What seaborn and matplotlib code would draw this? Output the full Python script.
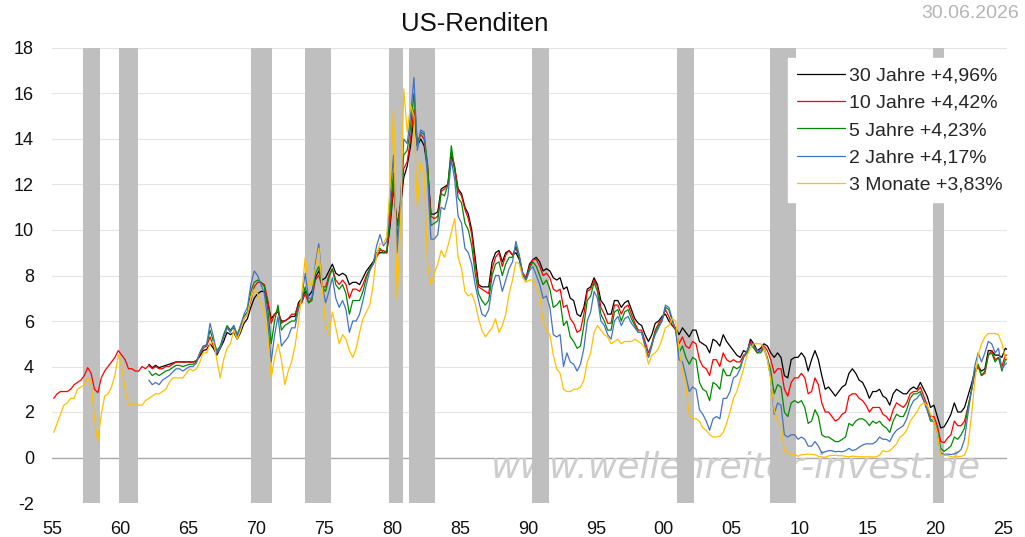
import numpy as np
import pandas as pd
import matplotlib
matplotlib.use("Agg")
import matplotlib.pyplot as plt
from matplotlib.lines import Line2D
import seaborn as sns

# ---------------- data (quarterly readings) ----------------
START_LONG = 1955   # 10 Jahre and 3 Monate start here
START_SHORT = 1962  # 30 / 5 / 2 Jahre start here

y10 = [
    2.6, 2.8, 2.9, 2.9,   # 1955
    2.9, 3.0, 3.2, 3.3,
    3.4, 3.6, 3.95, 3.7,
    3.0, 2.85, 3.5, 3.8,
    4.0, 4.2, 4.4, 4.7,
    4.5, 4.3, 3.9, 3.9,   # 1960
    3.8, 3.8, 4.0, 3.9,
    4.05, 3.9, 4.0, 3.9,
    3.9, 4.0, 4.0, 4.1,
    4.2, 4.2, 4.2, 4.2,
    4.2, 4.2, 4.25, 4.5,  # 1965
    4.8, 4.9, 5.3, 4.9,
    4.6, 4.8, 5.3, 5.7,
    5.6, 5.7, 5.3, 5.7,
    6.1, 6.3, 6.9, 7.5,
    7.7, 7.7, 7.6, 6.9,   # 1970
    5.9, 6.3, 6.5, 5.9,
    6.0, 6.1, 6.3, 6.3,
    6.7, 6.8, 7.2, 6.8,
    7.0, 7.8, 8.0, 7.5,
    7.5, 8.0, 8.3, 7.8,   # 1975
    7.6, 7.8, 7.6, 7.0,
    7.4, 7.4, 7.3, 7.6,
    8.0, 8.3, 8.5, 8.8,
    9.1, 9.1, 9.0, 10.4,
    12.0, 10.2, 10.9, 12.7,  # 1980
    13.0, 14.0, 15.3, 13.8,
    14.2, 14.0, 12.8, 10.6,
    10.5, 10.6, 11.7, 11.8,
    12.0, 13.4, 12.8, 11.7,
    11.5, 10.9, 10.5, 9.8,   # 1985
    8.5, 7.5, 7.4, 7.3,
    7.2, 8.3, 8.8, 9.0,
    8.4, 8.9, 9.1, 8.9,
    9.2, 8.8, 8.1, 7.9,
    8.4, 8.7, 8.7, 8.4,   # 1990
    8.0, 8.1, 7.9, 7.4,
    7.3, 7.4, 6.6, 6.7,
    6.1, 5.9, 5.5, 5.6,
    6.3, 7.3, 7.4, 7.8,
    7.5, 6.6, 6.3, 5.9,   # 1995
    5.9, 6.7, 6.7, 6.3,
    6.6, 6.7, 6.3, 5.9,
    5.6, 5.6, 5.1, 4.6,
    5.0, 5.6, 5.9, 6.1,
    6.5, 6.2, 5.8, 5.6,   # 2000
    5.0, 5.3, 4.9, 4.8,
    5.1, 5.0, 4.3, 4.0,
    3.9, 3.6, 4.3, 4.3,
    4.0, 4.6, 4.3, 4.2,
    4.3, 4.2, 4.2, 4.5,   # 2005
    4.6, 5.1, 4.9, 4.6,
    4.7, 4.9, 4.7, 4.3,
    3.7, 3.9, 3.9, 3.0,
    2.7, 3.3, 3.5, 3.5,
    3.7, 3.5, 2.8, 2.9,   # 2010
    3.5, 3.2, 2.4, 2.0,
    2.0, 1.8, 1.6, 1.7,
    1.9, 2.0, 2.7, 2.8,
    2.8, 2.6, 2.5, 2.3,
    2.0, 2.2, 2.2, 2.2,   # 2015
    1.9, 1.8, 1.6, 2.1,
    2.4, 2.3, 2.2, 2.4,
    2.8, 2.9, 2.9, 3.1,
    2.7, 2.3, 1.8, 1.8,
    1.4, 0.7, 0.65, 0.85,  # 2020
    1.0, 1.6, 1.4, 1.4,
    1.6, 2.2, 2.9, 3.7,
    4.0, 3.6, 3.7, 4.5,
    4.7, 4.3, 4.4, 4.0,
    4.5, 4.5,             # 2025
]

m3 = [
    1.1, 1.5, 1.9, 2.3,   # 1955
    2.4, 2.6, 2.6, 3.0,
    3.1, 3.2, 3.5, 3.3,
    1.7, 0.7, 1.9, 2.7,
    2.8, 3.1, 3.6, 4.5,
    4.0, 3.0, 2.3, 2.3,   # 1960
    2.4, 2.3, 2.3, 2.5,
    2.6, 2.7, 2.8, 2.8,
    2.9, 3.0, 3.3, 3.5,
    3.5, 3.5, 3.5, 3.7,
    3.9, 3.8, 3.9, 4.2,   # 1965
    4.6, 4.6, 5.0, 5.1,
    4.3, 3.5, 4.3, 4.8,
    5.0, 5.6, 5.2, 5.6,
    6.1, 6.3, 7.0, 7.4,
    7.2, 6.7, 6.4, 5.3,   # 1970
    3.5, 4.4, 5.0, 4.3,
    3.2, 3.8, 4.2, 4.9,
    5.9, 7.2, 8.8, 7.6,
    7.6, 8.3, 9.2, 7.5,
    5.8, 5.4, 6.4, 5.7,   # 1975
    5.0, 5.4, 5.2, 4.7,
    4.4, 4.8, 5.5, 6.1,
    6.4, 6.7, 7.6, 8.9,
    9.4, 9.4, 9.7, 12.0,
    15.3, 7.0, 9.8, 16.2,  # 1980
    14.3, 15.5, 15.0, 11.0,
    13.0, 12.5, 8.5, 7.6,
    8.1, 8.5, 9.1, 8.8,
    9.3, 9.9, 10.5, 8.8,
    8.3, 7.3, 7.1, 7.2,   # 1985
    6.8, 6.1, 5.6, 5.3,
    5.5, 5.7, 6.1, 5.5,
    5.8, 6.3, 7.2, 7.8,
    8.6, 8.5, 7.9, 7.7,
    7.8, 7.8, 7.5, 7.1,   # 1990
    6.0, 5.6, 5.4, 4.5,
    3.9, 3.7, 3.0, 2.9,
    2.9, 3.0, 3.0, 3.1,
    3.4, 4.2, 4.6, 5.5,
    5.8, 5.6, 5.4, 5.3,   # 1995
    5.0, 5.1, 5.2, 5.0,
    5.1, 5.1, 5.1, 5.2,
    5.1, 5.0, 4.8, 4.1,
    4.5, 4.6, 4.8, 5.2,
    5.7, 5.8, 6.1, 6.0,   # 2000
    4.8, 3.8, 3.2, 1.9,
    1.7, 1.7, 1.6, 1.3,
    1.2, 1.0, 0.9, 0.9,
    0.93, 1.1, 1.5, 2.0,
    2.6, 2.9, 3.4, 3.9,   # 2005
    4.5, 4.8, 5.0, 5.0,
    5.0, 4.8, 4.3, 3.4,
    2.1, 1.6, 1.5, 0.3,
    0.2, 0.15, 0.15, 0.05,
    0.12, 0.13, 0.15, 0.14,  # 2010
    0.12, 0.05, 0.02, 0.01,
    0.07, 0.09, 0.1, 0.08,
    0.08, 0.05, 0.03, 0.06,
    0.05, 0.03, 0.03, 0.03,
    0.03, 0.02, 0.03, 0.1,   # 2015
    0.3, 0.25, 0.3, 0.45,
    0.6, 0.9, 1.0, 1.2,
    1.6, 1.8, 2.0, 2.3,
    2.4, 2.3, 1.9, 1.6,
    1.1, 0.1, 0.1, 0.09,     # 2020
    0.04, 0.02, 0.04, 0.05,
    0.1, 0.5, 1.8, 3.3,
    4.5, 5.0, 5.3, 5.45,
    5.45, 5.45, 5.4, 5.0,
    4.4, 4.3,                # 2025
]

y30 = [
    4.1, 3.95, 4.05, 3.95,   # 1962
    4.0, 4.05, 4.1, 4.15,
    4.2, 4.2, 4.2, 4.2,
    4.2, 4.2, 4.25, 4.45,    # 1965
    4.7, 4.75, 5.0, 4.8,
    4.5, 4.8, 5.1, 5.5,
    5.4, 5.5, 5.2, 5.5,
    5.9, 6.1, 6.6, 7.0,
    7.2, 7.3, 7.3, 6.8,      # 1970
    6.1, 6.3, 6.4, 6.0,
    6.0, 6.1, 6.2, 6.2,
    6.8, 7.0, 7.3, 7.1,
    7.3, 7.9, 8.2, 7.8,
    7.9, 8.2, 8.5, 8.1,      # 1975
    8.0, 8.1, 8.0, 7.6,
    7.7, 7.7, 7.6, 7.9,
    8.2, 8.4, 8.6, 8.9,
    9.0, 9.0, 9.0, 10.2,
    11.9, 10.2, 11.0, 12.3,  # 1980
    12.8, 13.7, 15.0, 13.7,
    14.0, 13.7, 12.7, 10.7,
    10.7, 10.8, 11.8, 11.9,
    12.0, 13.3, 12.7, 11.8,
    11.6, 11.0, 10.7, 10.0,  # 1985
    8.8, 7.6, 7.5, 7.5,
    7.5, 8.6, 9.0, 9.1,
    8.6, 9.0, 9.1, 8.9,
    9.0, 8.7, 8.1, 7.9,
    8.5, 8.7, 8.8, 8.6,      # 1990
    8.2, 8.3, 8.2, 7.9,
    7.8, 7.9, 7.4, 7.5,
    7.0, 6.9, 6.3, 6.2,
    6.6, 7.4, 7.5, 7.9,
    7.6, 6.9, 6.7, 6.3,      # 1995
    6.3, 6.9, 6.9, 6.6,
    6.8, 6.9, 6.5, 6.1,
    5.9, 5.8, 5.4, 5.1,
    5.4, 5.9, 6.0, 6.2,
    6.3, 6.0, 5.8, 5.7,      # 2000
    5.4, 5.7, 5.5, 5.3,
    5.6, 5.6, 5.1, 5.0,
    4.9, 4.6, 5.2, 5.1,
    4.9, 5.4, 5.1, 4.9,
    4.7, 4.5, 4.4, 4.7,      # 2005
    4.6, 5.2, 5.0, 4.7,
    4.8, 5.0, 4.9, 4.6,
    4.4, 4.6, 4.4, 3.6,
    3.5, 4.3, 4.4, 4.4,
    4.6, 4.4, 3.8, 4.3,      # 2010
    4.7, 4.3, 3.6, 3.0,
    3.1, 2.9, 2.7, 2.9,
    3.1, 3.2, 3.7, 3.9,
    3.7, 3.4, 3.3, 3.0,
    2.6, 2.9, 2.9, 3.0,      # 2015
    2.7, 2.6, 2.3, 2.8,
    3.0, 2.9, 2.8, 2.8,
    3.0, 3.1, 3.0, 3.3,
    3.0, 2.7, 2.2, 2.3,
    1.8, 1.3, 1.35, 1.6,     # 2020
    1.9, 2.4, 2.0, 2.0,
    2.2, 2.7, 3.2, 3.8,
    4.0, 3.8, 3.9, 4.7,
    4.7, 4.5, 4.5, 4.4,
    4.8, 4.7,                # 2025
]

y5 = [
    3.8, 3.6, 3.7, 3.6,      # 1962
    3.7, 3.8, 3.85, 3.95,
    4.05, 4.05, 4.0, 4.05,
    4.1, 4.1, 4.2, 4.6,      # 1965
    4.9, 4.95, 5.6, 5.1,
    4.7, 4.9, 5.4, 5.8,
    5.6, 5.8, 5.4, 5.8,
    6.2, 6.4, 7.3, 7.7,
    7.8, 7.7, 7.5, 6.5,      # 1970
    5.0, 6.0, 6.7, 5.6,
    5.8, 5.9, 6.0, 6.0,
    6.6, 6.9, 7.5, 6.8,
    6.9, 8.1, 8.4, 7.5,
    7.3, 7.9, 8.3, 7.6,      # 1975
    7.4, 7.6, 7.2, 6.3,
    6.9, 6.9, 6.9, 7.3,
    7.9, 8.3, 8.5, 9.0,
    9.2, 9.0, 9.1, 10.9,
    12.5, 9.6, 11.2, 13.3,   # 1980
    13.5, 14.5, 16.0, 13.8,
    14.3, 14.2, 12.9, 10.2,
    10.3, 10.4, 11.6, 11.5,
    12.0, 13.7, 12.6, 11.4,
    11.2, 10.3, 10.0, 9.3,   # 1985
    8.1, 7.2, 6.9, 6.7,
    6.9, 8.0, 8.5, 8.6,
    8.0, 8.5, 8.8, 8.8,
    9.3, 8.8, 8.0, 7.8,
    8.3, 8.6, 8.4, 8.0,      # 1990
    7.6, 7.8, 7.4, 6.6,
    6.7, 6.9, 5.8, 6.0,
    5.3, 5.1, 4.8, 4.9,
    5.8, 6.9, 7.1, 7.7,
    7.3, 6.3, 6.0, 5.6,      # 1995
    5.6, 6.4, 6.5, 6.0,
    6.4, 6.5, 6.1, 5.8,
    5.5, 5.5, 4.9, 4.4,
    4.9, 5.5, 5.8, 6.0,
    6.6, 6.5, 6.0, 5.6,      # 2000
    4.6, 4.9, 4.4, 4.1,
    4.4, 4.3, 3.3, 3.0,
    2.9, 2.5, 3.3, 3.2,
    3.0, 3.9, 3.6, 3.6,
    4.0, 3.9, 4.0, 4.4,      # 2005
    4.6, 5.0, 4.8, 4.6,
    4.6, 4.8, 4.4, 3.8,
    2.8, 3.2, 3.1, 2.0,
    1.8, 2.4, 2.5, 2.4,
    2.5, 2.2, 1.5, 1.6,      # 2010
    2.1, 1.8, 1.0, 0.9,
    0.9, 0.8, 0.7, 0.7,
    0.8, 0.9, 1.5, 1.4,
    1.6, 1.7, 1.7, 1.6,
    1.4, 1.6, 1.5, 1.6,      # 2015
    1.4, 1.3, 1.1, 1.6,
    1.9, 1.8, 1.8, 2.1,
    2.6, 2.8, 2.8, 2.9,
    2.5, 2.1, 1.6, 1.6,
    1.2, 0.4, 0.27, 0.38,    # 2020
    0.5, 0.9, 0.8, 1.0,
    1.3, 2.2, 2.9, 3.8,
    4.1, 3.6, 3.8, 4.5,
    4.6, 4.2, 4.4, 3.8,
    4.3, 4.3,                # 2025
]

y2 = [
    3.4, 3.2, 3.3, 3.2,      # 1962
    3.4, 3.5, 3.6, 3.75,
    3.9, 3.9, 3.8, 3.9,
    4.0, 4.0, 4.15, 4.6,     # 1965
    4.9, 4.95, 5.9, 5.3,
    4.6, 4.8, 5.3, 5.7,
    5.5, 5.8, 5.3, 5.8,
    6.3, 6.6, 7.6, 8.2,
    8.0, 7.6, 7.2, 6.0,      # 1970
    4.2, 5.4, 6.2, 4.9,
    5.1, 5.3, 5.7, 5.7,
    6.5, 7.0, 8.1, 7.0,
    7.0, 8.5, 9.4, 7.6,
    6.8, 7.3, 7.9, 7.0,      # 1975
    6.6, 6.9, 6.5, 5.5,
    6.0, 6.0, 6.3, 6.9,
    7.6, 8.2, 8.5, 9.3,
    9.8, 9.3, 9.5, 11.5,
    13.3, 9.0, 11.0, 14.0,   # 1980
    13.8, 15.0, 16.7, 13.5,
    14.4, 14.3, 12.3, 9.6,
    9.6, 9.8, 11.0, 10.9,
    11.5, 13.1, 12.2, 10.6,
    10.3, 9.2, 9.0, 8.5,     # 1985
    7.6, 6.9, 6.3, 6.2,
    6.5, 7.5, 8.0, 8.0,
    7.3, 7.8, 8.3, 8.6,
    9.5, 8.9, 8.1, 7.8,
    8.2, 8.4, 8.0, 7.6,      # 1990
    7.0, 7.1, 6.6, 5.4,
    5.3, 5.4, 4.0, 4.6,
    4.2, 4.1, 3.8, 4.1,
    4.8, 6.0, 6.4, 7.3,
    7.0, 6.0, 5.8, 5.4,      # 1995
    5.2, 6.0, 6.2, 5.8,
    6.1, 6.2, 5.9, 5.7,
    5.5, 5.5, 4.9, 4.4,
    5.0, 5.4, 5.7, 6.0,
    6.7, 6.6, 6.1, 5.6,      # 2000
    4.3, 4.2, 3.6, 2.9,
    3.1, 3.0, 2.1, 1.9,
    1.6, 1.2, 1.7, 1.8,
    1.7, 2.6, 2.6, 2.9,
    3.5, 3.6, 3.9, 4.4,      # 2005
    4.7, 5.0, 4.9, 4.7,
    4.7, 4.8, 4.3, 3.5,
    1.9, 2.4, 2.3, 1.0,
    0.9, 1.0, 1.0, 0.8,
    0.9, 0.8, 0.5, 0.5,      # 2010
    0.7, 0.5, 0.2, 0.25,
    0.3, 0.3, 0.25, 0.27,
    0.25, 0.3, 0.4, 0.3,
    0.35, 0.45, 0.55, 0.6,
    0.6, 0.6, 0.7, 0.9,      # 2015
    0.8, 0.8, 0.7, 1.0,
    1.2, 1.3, 1.4, 1.7,
    2.2, 2.5, 2.6, 2.8,
    2.5, 2.1, 1.7, 1.6,
    1.1, 0.2, 0.14, 0.15,    # 2020
    0.13, 0.16, 0.22, 0.35,
    0.8, 1.9, 2.9, 4.0,
    4.6, 4.2, 4.6, 5.1,
    5.0, 4.6, 4.8, 3.9,
    4.1, 4.2,                # 2025
]

series_names = ["30 Jahre +4,96%", "10 Jahre +4,42%", "5 Jahre +4,23%",
                "2 Jahre +4,17%", "3 Monate +3,83%"]
series_colors = ["#000000", "#ff0000", "#008a00", "#4472c4", "#ffc000"]

recession_start = [1957.28, 1959.93, 1969.63, 1973.60, 1979.78, 1981.25,
                   1990.29, 2000.96, 2007.79, 2019.78]
recession_end = [1958.53, 1961.32, 1971.18, 1975.51, 1980.81, 1983.16,
                 1991.54, 2002.21, 2009.71, 2020.59]

y_ticks = list(range(-2, 19, 2))
x_tick_years = list(range(1955, 2026, 5))
x_tick_labels = ["55", "60", "65", "70", "75", "80", "85", "90", "95",
                 "00", "05", "10", "15", "20", "25"]

title_text = "US-Renditen"
date_text = "30.06.2026"
watermark_text = "www.wellenreiter-invest.de"

# ---------------- build long table ----------------
frames = []
for name, start, vals in zip(series_names,
                             [START_SHORT, START_LONG, START_SHORT, START_SHORT, START_LONG],
                             [y30, y10, y5, y2, m3]):
    x = start + (np.arange(len(vals)) + 0.5) / 4.0
    frames.append(pd.DataFrame({"Jahr": x, "Rendite": vals, "Serie": name}))
df = pd.concat(frames, ignore_index=True)

# ---------------- plot ----------------
sns.set_theme(style="white")
plt.rcParams["font.family"] = ["Liberation Sans", "DejaVu Sans"]

W, H = 1025, 537
fig = plt.figure(figsize=(W / 100, H / 100), dpi=100)
ax = fig.add_axes([52 / W, (H - 503) / H, 955 / W, 455 / H])

# horizontal grid
for yv in y_ticks:
    ax.axhline(yv, color="#a8a8a8" if yv == 0 else "#e4e4e4",
               lw=1.0 if yv == 0 else 0.8, zorder=0)

# watermark (under the recession bars)
ax.text(736 / W, 1 - 478 / H, watermark_text, transform=fig.transFigure,
        fontsize=26, family="DejaVu Sans", style="italic", color="#cdcdcd",
        ha="center", va="baseline", zorder=0.5, clip_on=False)

# recession bars
for s, e in zip(recession_start, recession_end):
    ax.axvspan(s, e, color="#bfbfbf", lw=0, zorder=1)

sns.lineplot(data=df, x="Jahr", y="Rendite", hue="Serie", hue_order=series_names,
             palette=dict(zip(series_names, series_colors)), estimator=None,
             lw=0.9, ax=ax, legend=False, zorder=2)

ax.set_xlim(1955, 2025.25)
ax.set_ylim(-2, 18)
ax.set_xticks(x_tick_years)
ax.set_xticklabels(x_tick_labels)
ax.set_yticks(y_ticks)
ax.set_yticklabels([str(v) for v in y_ticks])
ax.tick_params(axis="both", length=0, labelsize=13, colors="#111111")
ax.tick_params(axis="y", pad=13)
ax.tick_params(axis="x", pad=13)
ax.set_xlabel("")
ax.set_ylabel("")
for sp in ax.spines.values():
    sp.set_visible(False)
ax.grid(False)

handles = [Line2D([0], [0], color=c, lw=0.9) for c in series_colors]
leg = ax.legend(handles, series_names, loc="upper right",
                bbox_to_anchor=(1.005, 0.978), borderaxespad=0,
                fontsize=14, frameon=True, fancybox=False, framealpha=1,
                edgecolor="white", facecolor="white", handlelength=2.45,
                handletextpad=0.25, labelspacing=0.5, borderpad=0.45)
leg.set_zorder(5)

fig.text(475 / W, 1 - 24 / H, title_text, fontsize=18.5, ha="center",
         va="center", color="#111111")
fig.text(1019 / W, 1 - 14 / H, date_text, fontsize=14, ha="right",
         va="center", color="#b5b5b5")

fig.savefig("out.png", dpi=100)
